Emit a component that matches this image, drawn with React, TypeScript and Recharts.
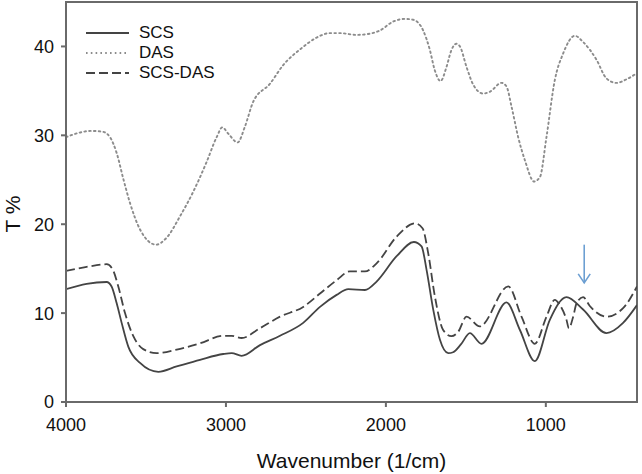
import React from "react";
import {
  LineChart,
  Line,
  XAxis,
  YAxis,
  Legend,
  ReferenceLine,
  ReferenceArea
} from "recharts";

// wavenumber (1/cm) and transmittance (%)
const scsWave = [
  4000, 3871, 3746, 3715, 3683, 3652, 3610, 3537, 3423, 3308, 3162, 3017, 2964, 2902, 2787, 2662,
  2517, 2412, 2308, 2235, 2131, 2058, 1933, 1825, 1777, 1746, 1704, 1662, 1610, 1580, 1530, 1475,
  1402, 1246, 1162, 1069, 975, 871, 767, 621, 517, 430
];
const scsT = [
  12.7, 13.3, 13.5, 13.0, 11.1, 8.9, 6.2, 4.4, 3.4, 4.0, 4.75, 5.4, 5.5, 5.2, 6.4, 7.45,
  8.9, 10.7, 12.05, 12.7, 12.6, 13.55, 16.4, 18.0, 17.5, 14.9, 10.4, 7.0, 5.5, 5.6, 6.5, 7.75,
  6.55, 11.2, 8.1, 4.6, 9.25, 11.8, 10.4, 7.75, 8.9, 10.9
];

const dasWave = [
  4000, 3840, 3770, 3725, 3683, 3643, 3600, 3537, 3437, 3370, 3287, 3206, 3121, 3058, 3023, 2986,
  2927, 2881, 2829, 2725, 2642, 2527, 2433, 2350, 2287, 2183, 2111, 2037, 1954, 1881, 1829, 1767,
  1725, 1694, 1658, 1621, 1590, 1560, 1537, 1496, 1454, 1392, 1350, 1277, 1246, 1214, 1173, 1131,
  1073, 1037, 996, 944, 892, 819, 767, 683, 621, 558, 496, 430
];
const dasT = [
  29.8, 30.5, 30.4, 29.8, 28.0, 25.2, 22.4, 19.4, 17.7, 18.5, 20.9, 23.6, 27.0, 29.8, 30.9, 30.2,
  29.2, 31.0, 33.8, 35.8, 37.9, 39.8, 41.0, 41.5, 41.5, 41.3, 41.4, 41.8, 42.8, 43.1, 43.0, 41.8,
  39.6, 37.3, 36.1, 37.7, 39.6, 40.3, 40.0, 37.7, 35.7, 34.7, 34.9, 35.9, 35.5, 33.2, 29.8, 27.2,
  24.8, 25.3, 29.8, 36.2, 39.2, 41.2, 40.5, 38.5, 36.4, 35.9, 36.3, 37.0
];

const mixWave = [
  4000, 3871, 3746, 3708, 3673, 3631, 3579, 3517, 3433, 3308, 3162, 3017, 2964, 2902, 2787, 2662,
  2517, 2412, 2308, 2225, 2131, 2058, 1933, 1819, 1771, 1735, 1694, 1642, 1590, 1548, 1496, 1413,
  1235, 1152, 1069, 996, 944, 912, 871, 856, 829, 808, 767, 725, 621, 517, 430
];
const mixT = [
  14.75, 15.2, 15.5, 14.9, 13.0, 10.0, 7.4, 5.95, 5.5, 5.9, 6.6, 7.45, 7.45, 7.2, 8.3, 9.6,
  10.7, 12.2, 13.7, 14.7, 14.7, 15.6, 18.6, 20.1, 19.55, 16.7, 11.9, 8.1, 7.4, 7.9, 9.6, 8.5,
  13.0, 9.6, 6.55, 9.6, 11.5, 10.9, 9.25, 8.3, 9.6, 11.1, 11.8, 10.8, 9.6, 10.55, 13.0
];

const seriesNames = ["SCS", "DAS", "SCS-DAS"];
const xTicks = [4000, 3000, 2000, 1000];
const yTicks = [0, 10, 20, 30, 40];
const xDomain = [430, 4000];
const yDomain = [0, 45];

// blue arrow marking the band near 760 1/cm
const arrowWave = 760;
const arrowFrom = 17.7;
const arrowTo = 13.4;

const FONT = "'Liberation Sans', Arial, sans-serif";
const AXIS = "#6a6a6a";
const TEXT = "#111";

const dashes: Record<string, string | undefined> = {
  SCS: undefined,
  DAS: "1.6 3.2",
  "SCS-DAS": "9 4"
};
const colors: Record<string, string> = {
  SCS: "#444",
  DAS: "#8c8c8c",
  "SCS-DAS": "#444"
};

const toPoints = (w: number[], t: number[]) => w.map((x, i) => ({ w: x, t: t[i] }));

const renderLegend = (props: any) => {
  const items = [...(props.payload || [])].sort(
    (a: any, b: any) => seriesNames.indexOf(a.value) - seriesNames.indexOf(b.value)
  );
  return (
    <div style={{ fontFamily: FONT, fontSize: 17, color: TEXT }}>
      {items.map((entry: any) => (
        <div key={entry.value} style={{ display: "flex", alignItems: "center", height: 20 }}>
          <svg width={44} height={10} style={{ marginRight: 9 }}>
            <line
              x1={0}
              y1={5}
              x2={43}
              y2={5}
              stroke={colors[entry.value]}
              strokeWidth={1.8}
              strokeDasharray={dashes[entry.value]}
            />
          </svg>
          <span>{entry.value}</span>
        </div>
      ))}
    </div>
  );
};

const Arrow = (p: any) => {
  const { x1, y1, x2, y2 } = p;
  return (
    <g stroke="#6c9fd2" strokeWidth={1.6} fill="none">
      <line x1={x1} y1={y1} x2={x2} y2={y2} />
      <polyline points={`${x2 - 6},${y2 - 9} ${x2},${y2} ${x2 + 6},${y2 - 9}`} />
    </g>
  );
};

const App: React.FC = () => {
  return (
    <div style={{ position: "absolute", left: 0, top: 0, background: "#fff" }}>
      <LineChart width={642} height={474} margin={{ top: 2, right: 5, bottom: 0, left: 0 }}>
        <XAxis
          dataKey="w"
          type="number"
          domain={xDomain}
          reversed
          ticks={xTicks}
          allowDataOverflow
          height={72}
          stroke={AXIS}
          strokeWidth={2}
          tickSize={5}
          tickMargin={11}
          tick={{ fill: TEXT, fontSize: 18, fontFamily: FONT }}
          label={{
            value: "Wavenumber (1/cm)",
            position: "insideBottom",
            offset: 6,
            fill: TEXT,
            fontSize: 21,
            fontFamily: FONT
          }}
        />
        <YAxis
          type="number"
          domain={yDomain}
          ticks={yTicks}
          allowDataOverflow
          width={66}
          stroke={AXIS}
          strokeWidth={2}
          tickSize={5}
          tickMargin={7}
          tick={{ fill: TEXT, fontSize: 18, fontFamily: FONT }}
          label={{
            value: "T %",
            angle: -90,
            position: "center",
            dx: -20,
            dy: 12,
            fill: TEXT,
            fontSize: 21,
            fontFamily: FONT
          }}
        />
        <ReferenceArea
          x1={xDomain[0]}
          x2={xDomain[1]}
          y1={yDomain[0]}
          y2={yDomain[1]}
          fill="none"
          stroke={AXIS}
          strokeWidth={2}
          ifOverflow="visible"
        />
        <Legend
          layout="vertical"
          align="center"
          verticalAlign="middle"
          content={renderLegend}
          wrapperStyle={{ position: "absolute", left: 86, top: 23, width: "auto", height: "auto" }}
        />
        <Line
          data={toPoints(scsWave, scsT)}
          dataKey="t"
          name="SCS"
          type="monotone"
          stroke={colors.SCS}
          strokeWidth={1.8}
          dot={false}
          isAnimationActive={false}
        />
        <Line
          data={toPoints(dasWave, dasT)}
          dataKey="t"
          name="DAS"
          type="monotone"
          stroke={colors.DAS}
          strokeWidth={1.9}
          strokeDasharray={dashes.DAS}
          strokeLinecap="round"
          dot={false}
          isAnimationActive={false}
        />
        <Line
          data={toPoints(mixWave, mixT)}
          dataKey="t"
          name="SCS-DAS"
          type="monotone"
          stroke={colors["SCS-DAS"]}
          strokeWidth={1.8}
          strokeDasharray={dashes["SCS-DAS"]}
          dot={false}
          isAnimationActive={false}
        />
        <ReferenceLine
          segment={[
            { x: arrowWave, y: arrowFrom },
            { x: arrowWave, y: arrowTo }
          ]}
          ifOverflow="visible"
          shape={Arrow}
        />
      </LineChart>
    </div>
  );
};

export default App;
